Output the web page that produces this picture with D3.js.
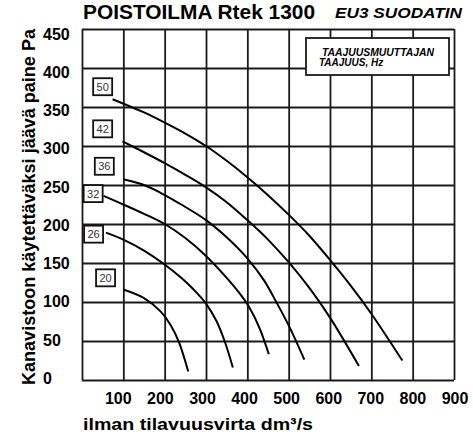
<html>
<head>
<script src="https://cdn.jsdelivr.net/npm/d3@7/dist/d3.min.js"></script>
<style>
  body { margin: 0; background: #fff; }
  text { font-family: "Liberation Sans", Arial, sans-serif; }
</style>
</head>
<body>
<svg width="473" height="436"></svg>
<script>
// axis ticks
const flowTicks = [100, 200, 300, 400, 500, 600, 700, 800, 900];
const pressureTicks = [0, 50, 100, 150, 200, 250, 300, 350, 400, 450];

// frequency series (Hz) - flow dm3/s, pressure Pa
const freqs = [50, 42, 36, 32, 26, 20];
const q50 = [74, 150, 200, 250, 300, 350, 400, 450, 500, 550, 600, 650, 700, 775];
const p50 = [360, 343, 330, 316, 300, 281, 260, 237, 212, 185, 154, 121, 85, 25];
const q42 = [98, 150, 200, 250, 300, 350, 400, 450, 500, 550, 600, 670];
const p42 = [306, 292, 278, 263, 247, 228, 205, 180, 151, 118, 80, 18];
const q36 = [102, 150, 190, 240, 300, 350, 400, 440, 470, 500, 538];
const p36 = [257, 250, 240, 225, 205, 183, 156, 128, 100, 70, 26];
const q32 = [52, 100, 150, 200, 250, 300, 350, 380, 405, 430, 452];
const p32 = [236, 225, 213, 200, 182, 159, 131, 112, 93, 66, 33];
const q26 = [58, 100, 150, 195, 240, 270, 300, 325, 345, 365];
const p26 = [189, 180, 166, 150, 131, 116, 98, 76, 50, 16];
const q20 = [100, 150, 190, 215, 235, 257];
const p20 = [116, 105, 88, 70, 48, 11];

// where the frequency tag sits (flow, pressure)
const tagQ = [50, 50, 54, 27, 28, 57];
const tagP = [376, 322, 274, 239, 187, 131];

const series = [
  {hz: freqs[0], q: q50, p: p50},
  {hz: freqs[1], q: q42, p: p42},
  {hz: freqs[2], q: q36, p: p36},
  {hz: freqs[3], q: q32, p: p32},
  {hz: freqs[4], q: q26, p: p26},
  {hz: freqs[5], q: q20, p: p20}
].map((s, i) => ({...s, tq: tagQ[i], tp: tagP[i],
  pts: s.q.map((v, j) => [v, s.p[j]])}));

const svg = d3.select("svg");
const margin = {top: 29, right: 19, bottom: 56, left: 82};
const W = 473, H = 436;
const iw = W - margin.left - margin.right, ih = H - margin.top - margin.bottom;

const x = d3.scaleLinear().domain([0, 900]).range([margin.left, W - margin.right]);
const y = d3.scaleLinear().domain([0, 450]).range([H - margin.bottom, margin.top]);
// tick labels are printed a little off the grid in the original
const xLab = d3.scaleLinear().domain([100, 900]).range([x(100) - 5, x(900) + 1]);
const yLab = d3.scaleLinear().domain([0, 450]).range([y(0) - 2, y(450) + 5]);

// grid
svg.append("g")
  .attr("transform", `translate(0,${H - margin.bottom})`)
  .call(d3.axisBottom(x).tickValues(d3.range(0, 901, 100)).tickSize(-ih).tickFormat(""))
  .call(g => g.select(".domain").remove())
  .selectAll("line").attr("stroke", "#1a1a1a").attr("stroke-width", 1.8);

svg.append("g")
  .attr("transform", `translate(${margin.left},0)`)
  .call(d3.axisLeft(y).tickValues(pressureTicks).tickSize(-iw).tickFormat(""))
  .call(g => g.select(".domain").remove())
  .selectAll("line").attr("stroke", "#1a1a1a").attr("stroke-width", 1.8);

// tick labels
svg.append("g")
  .selectAll("text")
  .data(flowTicks)
  .enter()
  .append("text")
  .attr("x", d => xLab(d))
  .attr("y", 404)
  .attr("text-anchor", "middle")
  .attr("font-size", 16)
  .attr("font-weight", "bold")
  .text(d => d);

svg.append("g")
  .selectAll("text")
  .data(pressureTicks)
  .enter()
  .append("text")
  .attr("x", 43)
  .attr("y", d => yLab(d))
  .attr("dy", "0.36em")
  .attr("font-size", 16)
  .attr("font-weight", "bold")
  .text(d => d);

// legend box
svg.append("rect")
  .attr("x", 306).attr("y", 38)
  .attr("width", 143).attr("height", 37)
  .attr("fill", "#fff").attr("stroke", "#1a1a1a").attr("stroke-width", 1.8);
svg.append("text").attr("x", 322).attr("y", 55.5)
  .attr("font-size", 10).attr("font-weight", "bold").attr("font-style", "italic")
  .attr("textLength", 112).attr("lengthAdjust", "spacingAndGlyphs")
  .text("TAAJUUSMUUTTAJAN");
svg.append("text").attr("x", 319).attr("y", 66)
  .attr("font-size", 10).attr("font-weight", "bold").attr("font-style", "italic")
  .text("TAAJUUS, Hz");

// curves
const line = d3.line().x(d => x(d[0])).y(d => y(d[1])).curve(d3.curveCatmullRom.alpha(0.5));
svg.append("g")
  .selectAll("path")
  .data(series)
  .enter()
  .append("path")
  .attr("d", d => line(d.pts))
  .attr("fill", "none")
  .attr("stroke", "#000")
  .attr("stroke-width", 2);

// frequency tags
const tags = svg.append("g")
  .selectAll("g")
  .data(series)
  .enter()
  .append("g")
  .attr("transform", d => `translate(${x(d.tq)},${y(d.tp)})`);
tags.append("rect")
  .attr("x", -9.5).attr("y", -8.5)
  .attr("width", 19).attr("height", 17)
  .attr("fill", "#fff").attr("stroke", "#111").attr("stroke-width", 1.8);
tags.append("text")
  .attr("text-anchor", "middle")
  .attr("dy", "0.36em")
  .attr("font-size", 11)
  .attr("fill", "#333")
  .text(d => d.hz);

// titles
svg.append("text").attr("x", 83).attr("y", 18.5)
  .attr("font-size", 20).attr("font-weight", "bold")
  .attr("textLength", 232).attr("lengthAdjust", "spacingAndGlyphs")
  .text("POISTOILMA Rtek 1300");
svg.append("text").attr("x", 335).attr("y", 18.3)
  .attr("font-size", 14).attr("font-weight", "bold").attr("font-style", "italic")
  .attr("textLength", 127).attr("lengthAdjust", "spacingAndGlyphs")
  .text("EU3 SUODATIN");

svg.append("text").attr("x", 83).attr("y", 429.5)
  .attr("font-size", 17).attr("font-weight", "bold")
  .attr("textLength", 230).attr("lengthAdjust", "spacingAndGlyphs")
  .text("ilman tilavuusvirta dm³/s");

svg.append("text")
  .attr("transform", `translate(35,207) rotate(-90)`)
  .attr("text-anchor", "middle")
  .attr("font-size", 18).attr("font-weight", "bold")
  .attr("textLength", 356).attr("lengthAdjust", "spacingAndGlyphs")
  .text("Kanavistoon käytettäväksi jäävä paine Pa");
</script>
</body>
</html>
